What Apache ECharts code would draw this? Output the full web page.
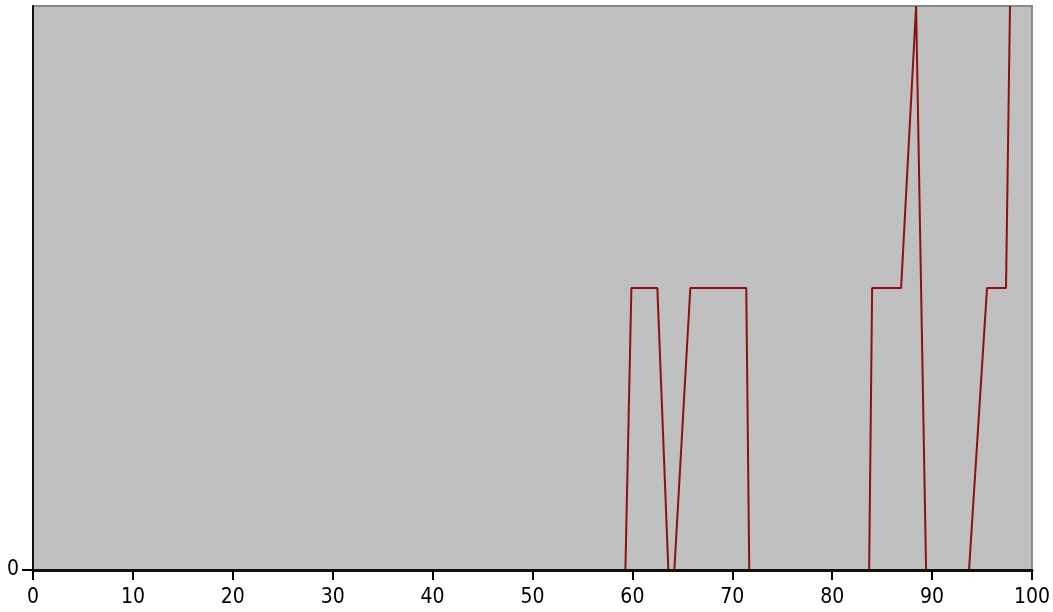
<!DOCTYPE html>
<html>
<head>
<meta charset="utf-8">
<script src="https://cdn.jsdelivr.net/npm/echarts@6/dist/echarts.min.js"></script>
<style>
  html, body { margin: 0; padding: 0; background: #fff; }
  #chart { width: 1053px; height: 612px; }
</style>
</head>
<body>
<div id="chart"></div>
<script>
// x positions and values
const xValues = [0, 59.3, 59.9, 62.5, 63.6, 64.2, 65.8, 71.4, 71.7, 83.7, 84.0, 86.9, 88.4, 89.4, 93.7, 95.5, 97.4, 97.8];
const yValues = [0, 0, 0.5, 0.5, 0, 0, 0.5, 0.5, 0, 0, 0.5, 0.5, 1.0, 0, 0, 0.5, 0.5, 1.0];
const xTicks = [0, 10, 20, 30, 40, 50, 60, 70, 80, 90, 100];
const yTicks = [0];

const chart = echarts.init(document.getElementById('chart'), null, { renderer: 'canvas' });

const labelFont = "'Liberation Sans Narrow', 'DejaVu Sans Condensed', 'Liberation Sans', sans-serif";

chart.setOption({
  animation: false,
  grid: {
    left: 33,
    right: 20,
    top: 6,
    bottom: 42,
    show: true,
    backgroundColor: '#c0c0c0',
    borderColor: '#8a8a8a',
    borderWidth: 2
  },
  xAxis: {
    type: 'value',
    z: 5,
    min: 0,
    max: 100,
    interval: 10,
    axisLine: { show: true, onZero: false, lineStyle: { color: '#111', width: 3 } },
    axisTick: { show: true, length: 10, lineStyle: { color: '#000', width: 2 }, customValues: xTicks },
    axisLabel: { color: '#000', fontSize: 21, fontFamily: labelFont, margin: 17, customValues: xTicks },
    splitLine: { show: false }
  },
  yAxis: {
    type: 'value',
    z: 5,
    min: 0,
    max: 1,
    interval: 1,
    axisLine: { show: true, lineStyle: { color: '#111', width: 2 } },
    axisTick: { show: true, length: 11, lineStyle: { color: '#000', width: 2 }, customValues: yTicks },
    axisLabel: { color: '#000', fontSize: 21, fontFamily: labelFont, margin: 14, customValues: yTicks },
    splitLine: { show: false }
  },
  series: [{
    type: 'line',
    z: 2,
    data: xValues.map((x, i) => [x, yValues[i]]),
    showSymbol: false,
    clip: true,
    lineStyle: { color: '#8e1010', width: 2 }
  }]
});
</script>
</body>
</html>
